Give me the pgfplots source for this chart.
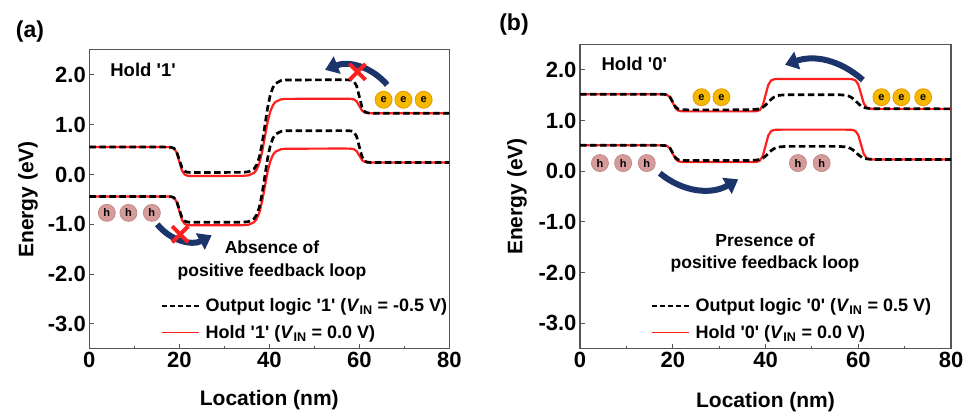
\documentclass[border=0pt]{standalone}
\usepackage{fontspec}
\setmainfont{Liberation Sans}
\usepackage{pgfplots}
\pgfplotsset{compat=1.18}
\usepackage{pgfplotstable}
\usetikzlibrary{arrows.meta}

\definecolor{bandred}{HTML}{FF1F1F}
\definecolor{navy}{HTML}{1B356B}
\definecolor{egold}{HTML}{F7B900}
\definecolor{eedge}{HTML}{E59A00}
\definecolor{hrose}{HTML}{D69C9C}
\definecolor{hedge}{HTML}{C48888}
\definecolor{framec}{HTML}{555555}

\newcommand{\q}{\textquotesingle}
\newcommand{\VIN}{\textit{V}\textsubscript{IN}}
\newcommand{\elec}[1]{\node[circle, fill=egold, draw=eedge, line width=0.8pt, minimum size=17pt, inner sep=0pt, font=\fontsize{11}{11}\selectfont\bfseries] at (#1) {e};}
\newcommand{\hole}[1]{\node[circle, fill=hrose, draw=hedge, line width=0.8pt, minimum size=17pt, inner sep=0pt, font=\fontsize{11}{11}\selectfont\bfseries] at (#1) {h};}

\tikzset{
  bigarrow/.style={navy, line width=6pt, -{Triangle[width=18pt,length=13pt]}},
  redx/.style={bandred, line width=4pt},
}

% Panel (a): x, red CB, black CB, red VB, black VB
\pgfplotstableread{
x ru bu rl bl
0 0.55 0.55 -0.44 -0.44
15.2 0.55 0.55 -0.44 -0.44
16.4 0.55 0.55 -0.44 -0.44
17.6 0.5486 0.5487 -0.4415 -0.4413
18.2 0.5436 0.5444 -0.4464 -0.4457
18.8 0.5227 0.526 -0.4673 -0.4644
19.4 0.4444 0.4572 -0.5456 -0.5346
20 0.26 0.295 -0.73 -0.70
20.6 0.0756 0.1328 -0.9144 -0.8654
21.2 -0.0027 0.064 -0.9927 -0.9356
21.8 -0.0236 0.0456 -1.0136 -0.9543
22.4 -0.0286 0.0413 -1.0186 -0.9587
23.6 -0.03 0.04 -1.02 -0.96
24.8 -0.03 0.04 -1.02 -0.96
34.2 -0.0274 0.0432 -1.0174 -0.9569
35.4 -0.0173 0.0553 -1.0074 -0.9449
36.6 0.0308 0.1129 -0.9596 -0.8879
37.2 0.099 0.1948 -0.8919 -0.8069
37.8 0.2304 0.3525 -0.7613 -0.6509
38.4 0.4505 0.6166 -0.5426 -0.3896
39 0.745 0.97 -0.25 -0.04
39.6 1.0395 1.3234 0.0426 0.3096
40.2 1.2596 1.5875 0.2613 0.5709
40.8 1.391 1.7452 0.3919 0.7269
41.4 1.4592 1.8271 0.4596 0.8079
42.6 1.5073 1.8847 0.5074 0.8649
43.8 1.5174 1.8968 0.5174 0.8769
55.2 1.52 1.90 0.52 0.88
56.4 1.52 1.90 0.52 0.88
57.6 1.5193 1.8983 0.5193 0.8784
58.2 1.5168 1.8926 0.5169 0.873
58.8 1.5064 1.8685 0.5068 0.8499
59.4 1.4672 1.7781 0.469 0.7635
60 1.375 1.565 0.38 0.56
60.6 1.2828 1.3519 0.291 0.3565
61.2 1.2436 1.2615 0.2532 0.2701
61.8 1.2332 1.2374 0.2431 0.2470
62.4 1.2307 1.2317 0.2407 0.2416
63.6 1.23 1.23 0.24 0.24
64.8 1.23 1.23 0.24 0.24
80 1.23 1.23 0.24 0.24
}\tabA

% Panel (b) red
\pgfplotstableread{
x ru rl
0 1.52 0.51
15.2 1.52 0.51
16.4 1.52 0.51
17.6 1.5191 0.5092
18.2 1.5163 0.5064
18.8 1.504 0.4945
19.4 1.4581 0.4499
20 1.35 0.345
20.6 1.2419 0.2401
21.2 1.196 0.1955
21.8 1.1837 0.1836
22.4 1.1809 0.1808
23.6 1.18 0.18
24.8 1.18 0.18
35.2 1.18 0.18
36.4 1.18 0.18
37.6 1.1816 0.1816
38.2 1.187 0.187
38.8 1.2101 0.2101
39.4 1.2965 0.2965
40 1.50 0.50
40.6 1.7035 0.7035
41.2 1.7899 0.7899
41.8 1.813 0.813
42.4 1.8184 0.8184
43.6 1.82 0.82
44.8 1.82 0.82
55.8 1.82 0.82
57.0 1.82 0.82
58.2 1.8185 0.8185
58.8 1.8135 0.8135
59.4 1.7923 0.7923
60.0 1.7126 0.7126
60.6 1.525 0.525
61.2 1.3374 0.3374
61.8 1.2577 0.2577
62.4 1.2365 0.2365
63.0 1.2315 0.2315
64.2 1.23 0.23
65.4 1.23 0.23
80 1.23 0.23
}\tabBr

% Panel (b) black
\pgfplotstableread{
x bu bl
0 1.52 0.51
15.2 1.52 0.51
16.4 1.52 0.51
17.6 1.5192 0.5093
18.2 1.5166 0.5067
18.8 1.5054 0.4959
19.4 1.4636 0.4554
20 1.365 0.36
20.6 1.2664 0.2646
21.2 1.2246 0.2241
21.8 1.2134 0.2133
22.4 1.2108 0.2108
23.6 1.21 0.21
24.8 1.21 0.21
35.8 1.2105 0.2105
37.0 1.2125 0.2123
38.2 1.2218 0.221
38.8 1.235 0.2333
39.4 1.2604 0.257
40.0 1.303 0.2968
40.6 1.36 0.35
41.2 1.417 0.4032
41.8 1.4596 0.443
42.4 1.485 0.4667
43.0 1.4982 0.479
44.2 1.5075 0.4877
45.4 1.5095 0.4895
54.8 1.5095 0.4896
56.0 1.5077 0.4879
57.2 1.499 0.4798
57.8 1.4867 0.4684
58.4 1.463 0.4463
59.0 1.4232 0.4094
59.6 1.37 0.36
60.2 1.3168 0.3106
60.8 1.277 0.2737
61.4 1.2533 0.2516
62.0 1.241 0.2402
63.2 1.2323 0.2321
64.4 1.2305 0.2304
80 1.23 0.23
}\tabBb

\pgfplotsset{
  bandaxis/.style={
    scale only axis, anchor=south west,
    xmin=0, xmax=80, ymin=-3.5, ymax=2.5,
    xtick={0,20,40,60,80}, xticklabels={0,20,40,60,80},
    minor xtick={10,30,50,70},
    ytick={-3,-2,-1,0,1,2}, yticklabels={-3.0,-2.0,-1.0,0.0,1.0,2.0},
    tick align=inside, tick pos=left,
    major tick length=5pt, minor tick length=3pt,
    axis line style={draw=framec, line width=1.1pt},
    tick style={draw=framec, line width=1pt},
    ticklabel style={font=\fontsize{22}{22}\selectfont\bfseries},
    xlabel={Location (nm)}, ylabel={Energy (eV)},
    label style={font=\fontsize{21}{21}\selectfont\bfseries},
    clip=false,
    legend cell align=left,
    legend image code/.code={\draw[#1] (0pt,0pt) -- (37pt,0pt);},
  },
  redband/.style={draw=bandred, line width=2.2pt, forget plot},
  blackband/.style={draw=black, line width=2.7pt, dash pattern=on 6.5pt off 3.5pt, forget plot},
}

\begin{document}
\begin{tikzpicture}
\useasboundingbox (0,0) rectangle (971pt,416pt);

\node[font=\fontsize{23}{23}\selectfont\bfseries] at (30pt,384pt) {(a)};
\node[font=\fontsize{23}{23}\selectfont\bfseries] at (514pt,391pt) {(b)};

% ---------------- Panel (a)
\begin{axis}[bandaxis, at={(89.3pt,67.1pt)}, width=360pt, height=299pt,
  xlabel style={at={(axis description cs:0.5,-0.171)}, anchor=center},
  ylabel style={at={(axis description cs:-0.170,0.5)}, anchor=center},
  legend style={font=\fontsize{18}{18}\selectfont\bfseries, draw=none, fill=none,
    at={(axis description cs:0.199,0.175)}, anchor=north west,
    inner sep=0pt, row sep=8pt, column sep=4pt, nodes={inner sep=2pt}},
]
\addplot[redband] table[x=x,y=ru]{\tabA};
\addplot[redband] table[x=x,y=rl]{\tabA};
\addplot[blackband] table[x=x,y=bu]{\tabA};
\addplot[blackband] table[x=x,y=bl]{\tabA};
\addlegendimage{draw=black, line width=1.6pt, dash pattern=on 5pt off 3pt}
\addlegendentry{Output logic \q1\q{} (\VIN{} = -0.5 V)}
\addlegendimage{draw=bandred, color=bandred, line width=1.6pt}
\addlegendentry{Hold \q1\q{} (\VIN{} = 0.0 V)}

\node[anchor=west, font=\fontsize{18.5}{18.5}\selectfont\bfseries] at (axis cs:3.9,2.1) {Hold \q1\q};
\elec{axis cs:65.4,1.5}
\elec{axis cs:69.8,1.5}
\elec{axis cs:74.3,1.5}
\hole{axis cs:3.9,-0.77}
\hole{axis cs:8.7,-0.77}
\hole{axis cs:13.9,-0.77}
\draw[bigarrow] (axis cs:66.2,1.8) to[bend right=35] (axis cs:52.4,2.1);
\draw[bigarrow] (axis cs:15.1,-1.0) to[bend right=40] (axis cs:27.2,-1.22);
\draw[redx] ([shift={(-8pt,-8pt)}]axis cs:59.6,2.06) -- ([shift={(8pt,8pt)}]axis cs:59.6,2.06);
\draw[redx] ([shift={(-8pt,8pt)}]axis cs:59.6,2.06) -- ([shift={(8pt,-8pt)}]axis cs:59.6,2.06);
\draw[redx] ([shift={(-8pt,-8pt)}]axis cs:20.2,-1.2) -- ([shift={(8pt,8pt)}]axis cs:20.2,-1.2);
\draw[redx] ([shift={(-8pt,8pt)}]axis cs:20.2,-1.2) -- ([shift={(8pt,-8pt)}]axis cs:20.2,-1.2);
\node[align=center, font=\fontsize{17.5}{23}\selectfont\bfseries] at (axis cs:40.6,-1.72) {Absence of\\positive feedback loop};
\end{axis}

% ---------------- Panel (b)
\begin{axis}[bandaxis, at={(580pt,67.5pt)}, width=371pt, height=304pt,
  xlabel style={at={(axis description cs:0.5,-0.176)}, anchor=center},
  ylabel style={at={(axis description cs:-0.170,0.5)}, anchor=center},
  legend style={font=\fontsize{18}{18}\selectfont\bfseries, draw=none, fill=none,
    at={(axis description cs:0.191,0.171)}, anchor=north west,
    inner sep=0pt, row sep=8pt, column sep=4pt, nodes={inner sep=2pt}},
]
\addplot[redband] table[x=x,y=ru]{\tabBr};
\addplot[redband] table[x=x,y=rl]{\tabBr};
\addplot[blackband] table[x=x,y=bu]{\tabBb};
\addplot[blackband] table[x=x,y=bl]{\tabBb};
\addlegendimage{draw=black, line width=1.6pt, dash pattern=on 5pt off 3pt}
\addlegendentry{Output logic \q0\q{} (\VIN{} = 0.5 V)}
\addlegendimage{draw=bandred, color=bandred, line width=1.6pt}
\addlegendentry{Hold \q0\q{} (\VIN{} = 0.0 V)}

\node[anchor=west, font=\fontsize{18.5}{18.5}\selectfont\bfseries] at (axis cs:3.9,2.12) {Hold \q0\q};
\elec{axis cs:26.2,1.46}
\elec{axis cs:30.5,1.46}
\elec{axis cs:65.0,1.46}
\elec{axis cs:69.3,1.46}
\elec{axis cs:74.0,1.46}
\hole{axis cs:4.3,0.16}
\hole{axis cs:9.3,0.16}
\hole{axis cs:14.4,0.16}
\hole{axis cs:47.0,0.16}
\hole{axis cs:52.1,0.16}
\draw[bigarrow] (axis cs:61.0,1.8) to[bend right=30] (axis cs:44.2,2.1);
\draw[bigarrow] (axis cs:17.2,-0.04) to[bend right=35] (axis cs:34.1,-0.16);
\node[align=center, font=\fontsize{17.5}{22}\selectfont\bfseries] at (axis cs:39.9,-1.61) {Presence of\\positive feedback loop};
\end{axis}
\end{tikzpicture}
\end{document}
